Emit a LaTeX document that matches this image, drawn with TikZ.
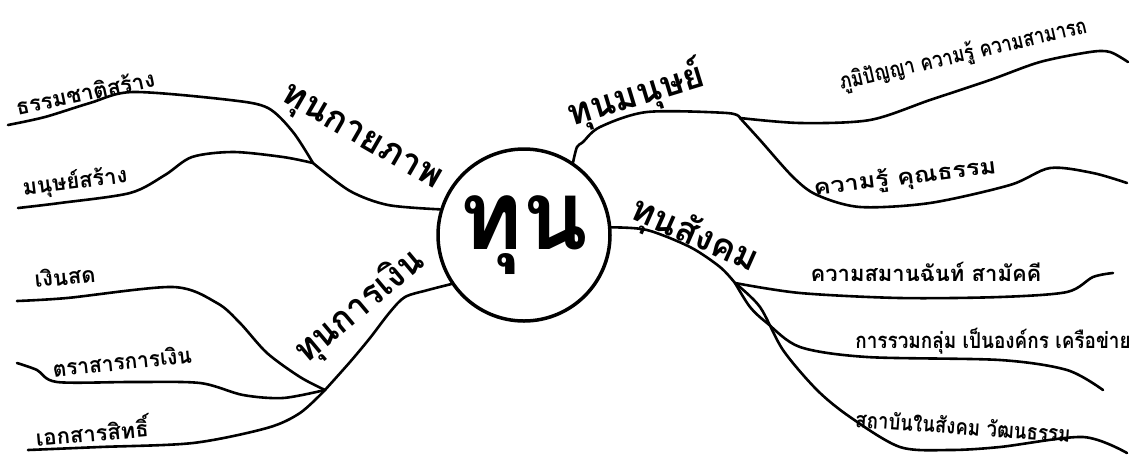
\documentclass[tikz,border=0pt]{standalone}
\usepackage{fontspec}
\newfontfamily\thaifont[Script=Thai]{Loma}
\usetikzlibrary{math}
\tikzset{
  branch/.style={line width=2.6, line join=round, line cap=round},
  leaf/.style={font=\thaifont\bfseries\fontsize{22}{24}\selectfont, inner sep=0},
  kind/.style={font=\thaifont\bfseries\fontsize{36}{40}\selectfont, inner sep=0},
}

\begin{document}
\begin{tikzpicture}[x=1pt,y=-1pt]
\tikzmath{
\R=172;
}
\useasboundingbox (0,0) rectangle (1136,467);

\node[circle,draw,line width=3.5,minimum size=\R,inner sep=0,font=\thaifont\bfseries\fontsize{96}{96}\selectfont] (tun) at (524,235) {ทุน};

\coordinate (S1) at (313,163);
\coordinate (S2) at (325,390);
\coordinate (S3) at (740,118);
\coordinate (S4) at (735,283);

\coordinate (E1) at (8,125);
\coordinate (E2) at (18,208);
\coordinate (E3) at (17,301);
\coordinate (E4) at (17,363);
\coordinate (E5) at (28,450);
\coordinate (E6) at (1128,62);
\coordinate (E7) at (1127,183);
\coordinate (E8) at (1113,273);
\coordinate (E9) at (1103,390);
\coordinate (E10) at (1127,453);

\draw[branch] plot[smooth] coordinates {(tun.163) (388,205) (350,191) (S1)};
\draw[branch] plot[smooth] coordinates {(S1) (293,132) (268,108) (230,100) (133,92) (90,103) (45,117) (E1)};
\draw[branch] plot[smooth] coordinates {(S1) (283,157) (233,152) (192,157) (165,175) (130,193) (60,203) (E2)};

\draw[branch] plot[smooth] coordinates {(tun.214) (428,290) (405,297) (390,312) (370,338) (350,362) (S2)};
\draw[branch] plot[smooth] coordinates {(S2) (300,377) (267,353) (240,323) (217,303) (173,287) (67,298) (E3)};
\draw[branch] plot[smooth] coordinates {(S2) (283,398) (243,395) (200,383) (133,382) (57,382) (37,370) (E4)};
\draw[branch] plot[smooth] coordinates {(S2) (300,413) (267,428) (193,443) (100,447) (E5)};

\draw[branch] plot[smooth] coordinates {(tun.56) (577,147) (583,142) (600,127) (647,112) (727,113) (S3)};
\draw[branch] plot[smooth] coordinates {(S3) (800,123) (870,120) (930,100) (990,80) (1040,62) (1090,52) (1110,52) (E6)};
\draw[branch] plot[smooth] coordinates {(S3) (760,140) (793,177) (817,195) (860,207) (930,203) (1010,185) (1050,168) (1093,173) (E7)};

\draw[branch] plot[smooth] coordinates {(tun.5) (647,230) (690,247) (720,267) (S4)};
\draw[branch] plot[smooth] coordinates {(S4) (800,293) (900,298) (1000,297) (1067,292) (1093,277) (E8)};
\draw[branch] plot[smooth] coordinates {(S4) (750,307) (767,323) (800,347) (867,357) (1000,360) (1067,370) (E9)};
\draw[branch] plot[smooth] coordinates {(S4) (760,307) (783,350) (817,390) (850,417) (900,447) (950,450) (1000,447) (1083,437) (E10)};

\node[kind,rotate=-30] (kaiyaphap) at (360,140) {ทุนกายภาพ};
\node[kind,rotate=40,xscale=0.95] (kanngoen) at (360,307) {ทุนการเงิน};
\node[kind,rotate=17] (manut) at (636,95) {ทุนมนุษย์};
\node[kind,rotate=-24] (sangkhom) at (694,236) {ทุนสังคม};

\node[leaf,rotate=12] (thammachat) at (85,92) {ธรรมชาติสร้าง};
\node[leaf,rotate=7] (manutsang) at (75,182) {มนุษย์สร้าง};
\node[leaf,rotate=5] (ngoensot) at (65,276) {เงินสด};
\node[leaf,rotate=6,xscale=0.95] (tratsan) at (122,361) {ตราสารการเงิน};
\node[leaf,rotate=5] (ekkasan) at (92,430) {เอกสารสิทธิ์};

\node[leaf,rotate=13,xscale=0.83] (phumi) at (963,55) {ภูมิปัญญา ความรู้ ความสามารถ};
\node[leaf,rotate=7,xscale=1.15] (khunnatham) at (905,178) {ความรู้ คุณธรรม};
\node[leaf] (samakkhi) at (926,272) {ความสมานฉันท์ สามัคคี};
\node[leaf,xscale=0.86] (ruamklum) at (993,341) {การรวมกลุ่ม เป็นองค์กร เครือข่าย};
\node[leaf,rotate=-4,xscale=0.85] (sathaban) at (963,426) {สถาบันในสังคม วัฒนธรรม};

\end{tikzpicture}
\end{document}
